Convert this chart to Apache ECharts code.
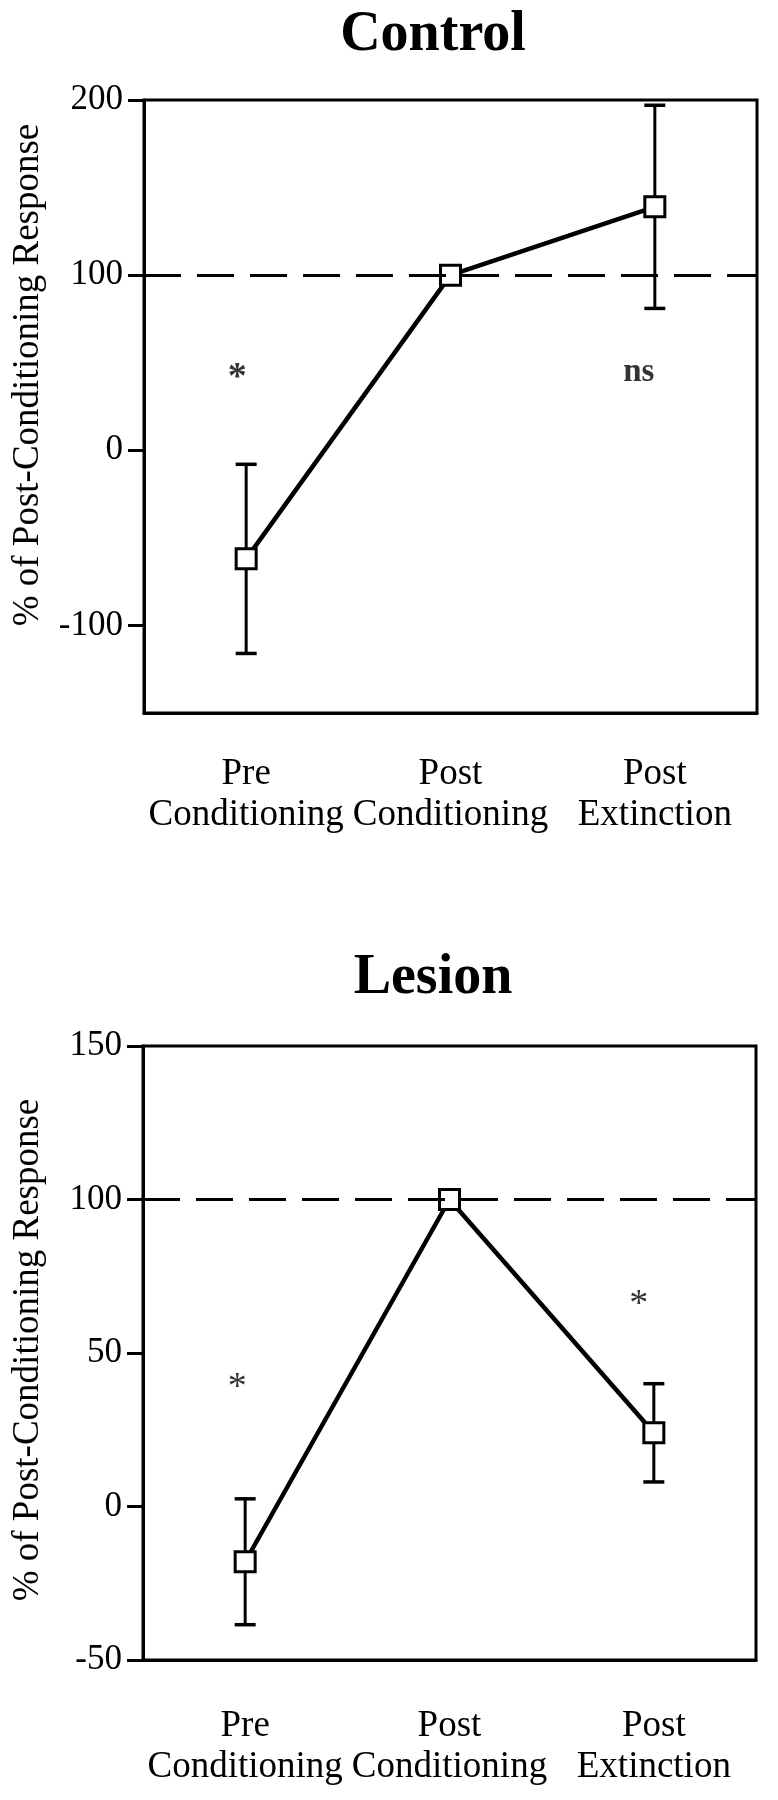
<html>
<head>
    <meta charset="utf-8">
    <script src="https://cdn.jsdelivr.net/npm/echarts@6/dist/echarts.min.js"></script>
</head>
<body>
    <style>
        html, body { margin: 0; background: #fff; }
    </style>
    <div id="main" style="width: 778px;height:1800px;"></div>
    <script>
        // categories shared by both panels
        var phases = ['Pre\nConditioning', 'Post\nConditioning', 'Post\nExtinction'];

        // Control panel
        var controlMeans = [-62, 100, 139];
        var controlErrs = [54, 0, 58];
        var controlTicks = [-100, 0, 100, 200];
        var controlNoteAt = [0, 2];
        var controlNoteValues = [45, 42];
        var controlNoteTexts = ['*', 'ns'];

        // Lesion panel
        var lesionMeans = [-18, 100, 24];
        var lesionErrs = [20.5, 0, 16];
        var lesionTicks = [-50, 0, 50, 100, 150];
        var lesionNoteAt = [0, 2];
        var lesionNoteValues = [41, 68];
        var lesionNoteTexts = ['*', '*'];

        var refLevel = 100;
        var font = 'Liberation Serif';

        var chart = echarts.init(document.getElementById('main'));

        function errBars(params, api) {
            var err = api.value(2);
            if (!err) return;
            var mean = api.value(1);
            var x = api.coord([api.value(0), mean])[0];
            var top = api.coord([api.value(0), mean + err])[1];
            var bot = api.coord([api.value(0), mean - err])[1];
            var hw = 10.5;
            var st = { stroke: '#000', lineWidth: 3.5 };
            return {
                type: 'group',
                children: [
                    { type: 'line', shape: { x1: x, y1: top, x2: x, y2: bot }, style: { stroke: '#000', lineWidth: 3 } },
                    { type: 'line', shape: { x1: x - hw, y1: top, x2: x + hw, y2: top }, style: st },
                    { type: 'line', shape: { x1: x - hw, y1: bot, x2: x + hw, y2: bot }, style: st }
                ]
            };
        }

        function xAxisFor(gridIndex, margin) {
            return {
                type: 'category',
                gridIndex: gridIndex,
                data: phases,
                axisLine: { onZero: false, lineStyle: { color: '#000', width: 3 } },
                axisTick: { alignWithLabel: true, length: 19, lineStyle: { color: '#000', width: 3 } },
                axisLabel: {
                    color: '#000', fontFamily: font, fontSize: 37, lineHeight: 41,
                    margin: margin, interval: 0
                }
            };
        }

        function yAxisFor(gridIndex, min, max, ticks) {
            return {
                type: 'value',
                gridIndex: gridIndex,
                min: min,
                max: max,
                splitLine: { show: false },
                axisLine: { show: true, onZero: false, lineStyle: { color: '#000', width: 3 } },
                axisTick: { show: true, length: 16, customValues: ticks, lineStyle: { color: '#000', width: 3 } },
                axisLabel: { color: '#000', fontFamily: font, fontSize: 35, margin: 21, customValues: ticks }
            };
        }

        function noteSeries(idx, cats, vals, texts, shifts) {
            return {
                type: 'scatter',
                xAxisIndex: idx,
                yAxisIndex: idx,
                symbolSize: 0,
                silent: true,
                z: 5,
                data: cats.map(function (c, i) {
                    return {
                        value: [c, vals[i]],
                        label: {
                            show: true, position: 'inside', formatter: texts[i],
                            color: '#000', fontFamily: font,
                            fontSize: texts[i] === 'ns' ? 33 : 38,
                            fontWeight: (idx === 0) ? 'bold' : 'normal',
                            offset: shifts[i]
                        }
                    };
                })
            };
        }

        function panelSeries(idx, means, errs) {
            return [
                {
                    type: 'custom',
                    xAxisIndex: idx,
                    yAxisIndex: idx,
                    renderItem: errBars,
                    z: 1,
                    data: means.map(function (m, i) { return [i, m, errs[i]]; })
                },
                {
                    type: 'line',
                    xAxisIndex: idx,
                    yAxisIndex: idx,
                    data: means,
                    z: 3,
                    symbol: 'rect',
                    symbolSize: 20,
                    showAllSymbol: true,
                    lineStyle: { color: '#000', width: 4.5 },
                    itemStyle: { color: '#fff', borderColor: '#000', borderWidth: 3 },
                    markLine: {
                        silent: true,
                        symbol: 'none',
                        label: { show: false },
                        lineStyle: { color: '#000', width: 3, type: [37, 16] },
                        data: [{ yAxis: refLevel }]
                    }
                }
            ];
        }

        var option = {
            animation: false,
            backgroundColor: '#fff',
            graphic: [
                { type: 'text', x: 433, y: 36, style: { text: 'Control', font: 'bold 56px "Liberation Serif"', fill: '#000', align: 'center', verticalAlign: 'middle' } },
                { type: 'text', x: 433, y: 979, style: { text: 'Lesion', font: 'bold 56px "Liberation Serif"', fill: '#000', align: 'center', verticalAlign: 'middle' } },
                { type: 'text', x: 28, y: 375, rotation: Math.PI / 2, style: { text: '% of Post-Conditioning Response', font: '37px "Liberation Serif"', fill: '#000', align: 'center', verticalAlign: 'middle' } },
                { type: 'text', x: 28, y: 1350, rotation: Math.PI / 2, style: { text: '% of Post-Conditioning Response', font: '37px "Liberation Serif"', fill: '#000', align: 'center', verticalAlign: 'middle' } }
            ],
            grid: [
                { left: 144, top: 100, width: 613, height: 613, show: true, borderColor: '#000', borderWidth: 3, backgroundColor: 'transparent' },
                { left: 143, top: 1046, width: 613, height: 614, show: true, borderColor: '#000', borderWidth: 3, backgroundColor: 'transparent' }
            ],
            xAxis: [xAxisFor(0, 41), xAxisFor(1, 46)],
            yAxis: [yAxisFor(0, -150, 200, controlTicks), yAxisFor(1, -50, 150, lesionTicks)],
            series: [].concat(
                panelSeries(0, controlMeans, controlErrs),
                panelSeries(1, lesionMeans, lesionErrs),
                [
                    noteSeries(0, controlNoteAt, controlNoteValues, controlNoteTexts, [[-9, 7], [-16, -4]]),
                    noteSeries(1, lesionNoteAt, lesionNoteValues, lesionNoteTexts, [[-8, 7], [-15, 7]])
                ]
            )
        };
        chart.setOption(option);
    </script>
</body>
</html>
